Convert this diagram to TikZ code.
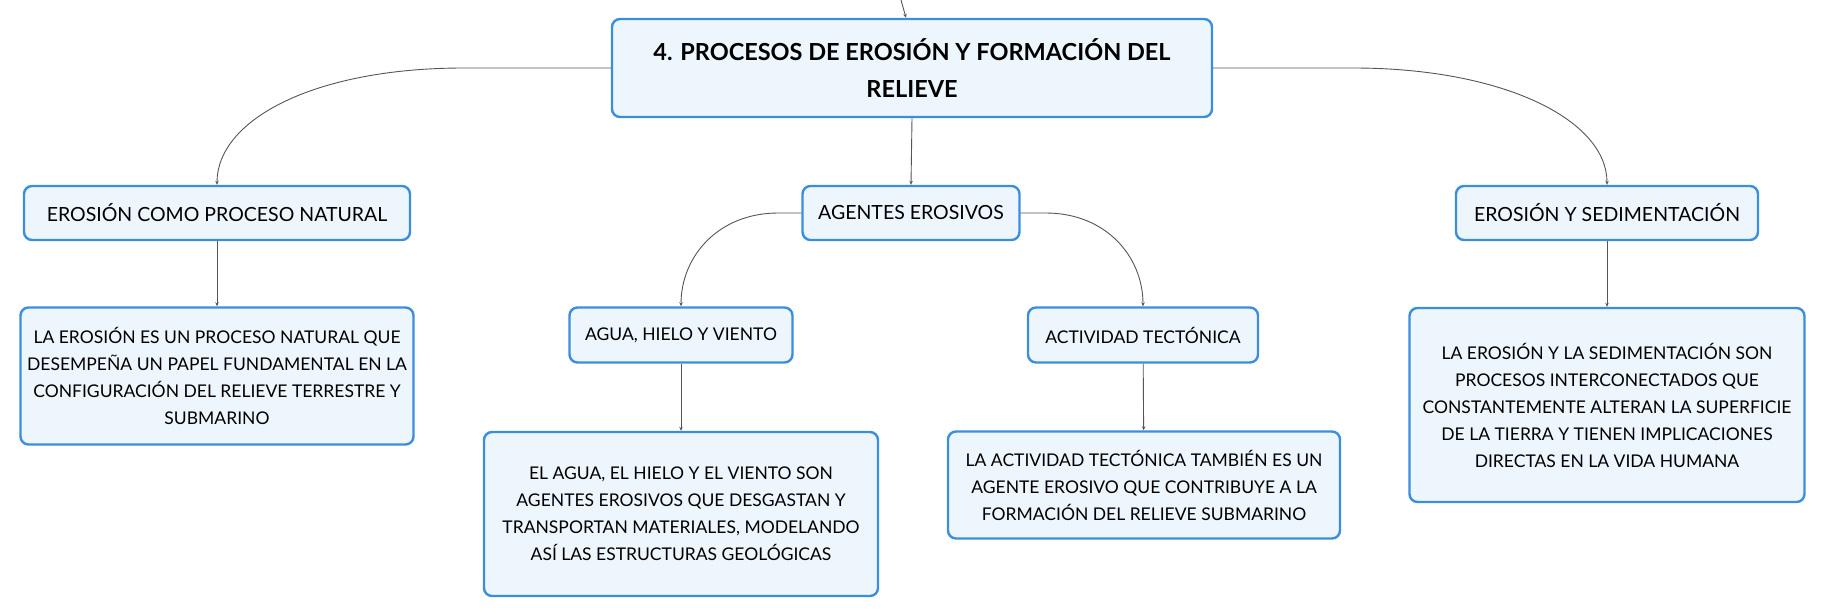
\documentclass[tikz,border=0pt]{standalone}
\usepackage{fontspec}
\setmainfont{Lato}
\usetikzlibrary{arrows.meta}
\definecolor{boxline}{HTML}{3A8EDB}
\definecolor{boxfill}{HTML}{EEF6FD}
\definecolor{edge}{HTML}{555555}
\begin{document}
\begin{tikzpicture}[x=1pt,y=-1pt]
\tikzstyle{every node}=[draw=boxline,fill=boxfill,line width=2.4pt,rounded corners=8pt,align=center,inner sep=0pt,font=\fontsize{17.5}{27}\selectfont];
\tikzstyle{topic}=[font=\fontsize{23.5}{37}\selectfont\bfseries];
\tikzstyle{branch}=[font=\fontsize{19.5}{27}\selectfont];
\tikzstyle{link}=[draw=edge,line width=0.9pt,-{Stealth[length=4pt,width=3.5pt]}];
\useasboundingbox (0,0) rectangle (1821,615);
\node[topic,minimum width=600pt,minimum height=98pt] (title) at (912,68) {4. PROCESOS DE EROSIÓN Y FORMACIÓN DEL\\RELIEVE};
\node[branch,minimum width=386pt,minimum height=54pt] (erosion) at (217,213) {EROSIÓN COMO PROCESO NATURAL};
\node[branch,minimum width=217pt,minimum height=54pt] (agentes) at (911,213) {AGENTES EROSIVOS};
\node[branch,minimum width=302pt,minimum height=54pt] (sedim) at (1607,213) {EROSIÓN Y SEDIMENTACIÓN};
\node[minimum width=393pt,minimum height=137pt] (erosiontxt) at (217,376) {LA EROSIÓN ES UN PROCESO NATURAL QUE\\DESEMPEÑA UN PAPEL FUNDAMENTAL EN LA\\CONFIGURACIÓN DEL RELIEVE TERRESTRE Y\\SUBMARINO};
\node[minimum width=223pt,minimum height=55pt] (agua) at (681,335) {AGUA, HIELO Y VIENTO};
\node[minimum width=230pt,minimum height=55pt] (tecto) at (1143,335) {ACTIVIDAD TECTÓNICA};
\node[minimum width=394pt,minimum height=164pt] (aguatxt) at (681,514) {EL AGUA, EL HIELO Y EL VIENTO SON\\AGENTES EROSIVOS QUE DESGASTAN Y\\TRANSPORTAN MATERIALES, MODELANDO\\ASÍ LAS ESTRUCTURAS GEOLÓGICAS};
\node[minimum width=392pt,minimum height=107pt] (tectotxt) at (1144,485) {LA ACTIVIDAD TECTÓNICA TAMBIÉN ES UN\\AGENTE EROSIVO QUE CONTRIBUYE A LA\\FORMACIÓN DEL RELIEVE SUBMARINO};
\node[minimum width=395pt,minimum height=194pt] (sedimtxt) at (1607,405) {LA EROSIÓN Y LA SEDIMENTACIÓN SON\\PROCESOS INTERCONECTADOS QUE\\CONSTANTEMENTE ALTERAN LA SUPERFICIE\\DE LA TIERRA Y TIENEN IMPLICACIONES\\DIRECTAS EN LA VIDA HUMANA};
\coordinate (up) at (901,0);
\draw[link] (up) -- ([xshift=-6pt]title.north);
\draw[link] (title.west) -- ++(-147,0) .. controls +(-150,0) and +(0,-65) .. (erosion.north);
\draw[link] (title.east) -- ++(140,0) .. controls +(150,0) and +(0,-65) .. (sedim.north);
\draw[link] (title.south) -- (agentes.north);
\draw[link] (agentes.west) -- ++(-23,0) .. controls +(-60,0) and +(0,-50) .. (agua.north);
\draw[link] (agentes.east) -- ++(25,0) .. controls +(60,0) and +(0,-50) .. (tecto.north);
\draw[link] (erosion) -- (erosiontxt);
\draw[link] (sedim) -- (sedimtxt);
\draw[link] (agua) -- (aguatxt);
\draw[link] (tecto) -- (tectotxt);
\end{tikzpicture}
\end{document}
